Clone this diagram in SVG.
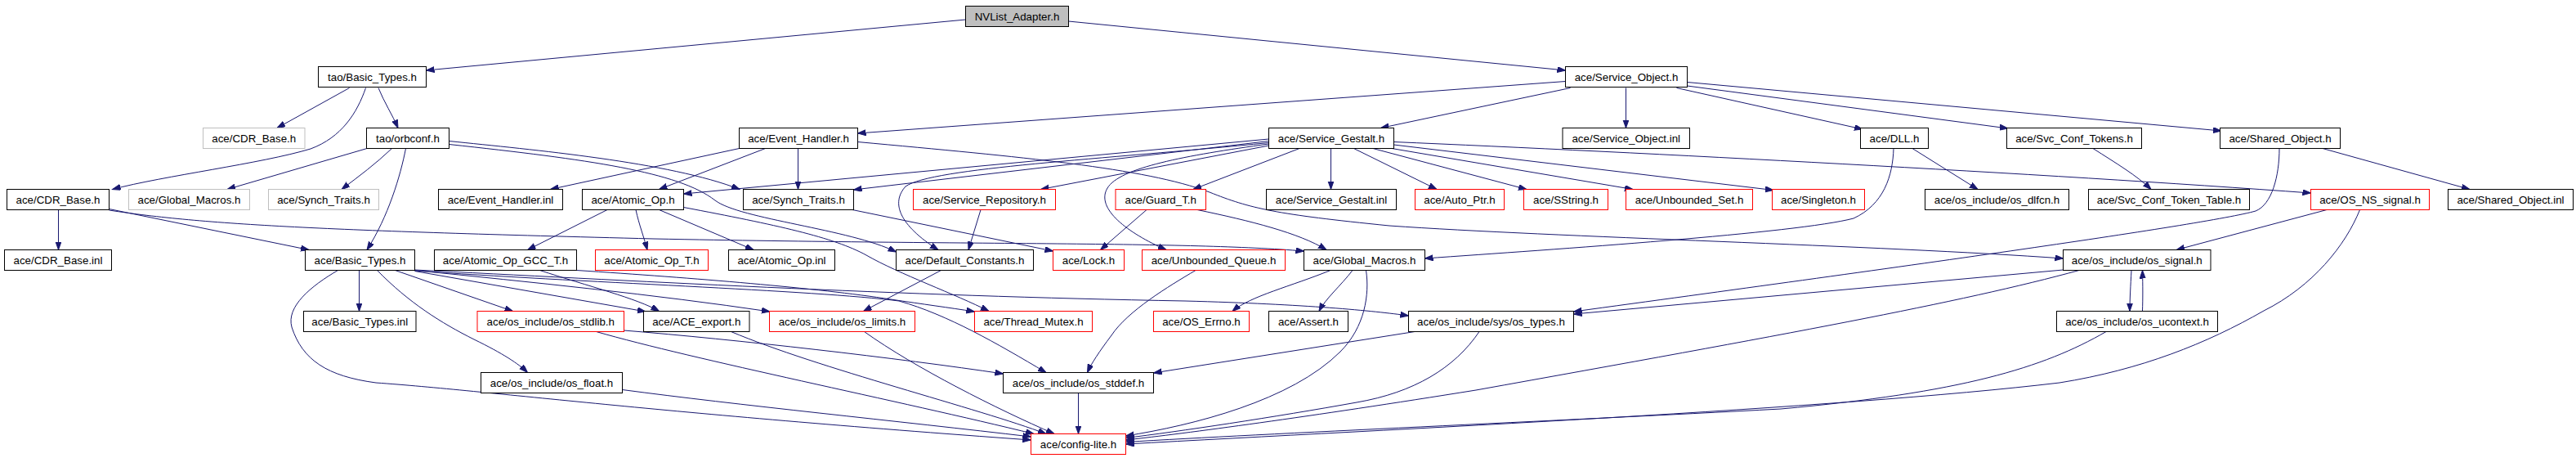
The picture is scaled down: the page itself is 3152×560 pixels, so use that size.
<svg xmlns="http://www.w3.org/2000/svg" width="3152" height="560" viewBox="0 0 3152 560">
<defs>
<style>
.node rect{fill:#ffffff;stroke:#000000;stroke-width:1}
.node.red rect{stroke:#ff0000}
.node.grey rect{stroke:#bfbfbf}
.node.root rect{fill:#bfbfbf;stroke:#000000}
.node text{font-family:"Liberation Sans",Arial,sans-serif;font-size:13.33px;fill:#000000;text-anchor:middle}
#edges path{fill:none;stroke:#191970;stroke-width:1;marker-end:url(#arr)}
</style>
<marker id="arr" markerUnits="userSpaceOnUse" markerWidth="11" markerHeight="8" refX="10" refY="3.5" orient="auto">
<path d="M0,0 L10,3.5 L0,7 z" fill="#191970" stroke="#191970" stroke-width="1"/>
</marker>
</defs>
<rect x="0" y="0" width="3152" height="560" fill="#ffffff"/>
<g id="edges">
<path d="M1181.5,24 L521.5,86"/>
<path d="M1307.5,26 L1915.5,86"/>
<path d="M427.5,107.5 L339,156.5"/>
<path d="M447.5,107.5 C437,138 418,168 380,182 C320,200 200,215 137.5,231.5"/>
<path d="M463,107.5 C470,125 480,140 487,156.5"/>
<path d="M449,181.5 L278,231.5"/>
<path d="M479.5,181.5 C460,200 440,215 418,231.5"/>
<path d="M496.5,181.5 C490,215 475,265 449,305.5"/>
<path d="M549.5,172.5 C650,183 820,198 905,231.5"/>
<path d="M549.5,176.5 C720,195 830,210 875,245 C905,268 1040,280 1096.5,308"/>
<path d="M904.5,181.5 L673.5,231.5"/>
<path d="M936.5,181.5 L806.5,231.5"/>
<path d="M976.5,181.5 L976.5,231.5"/>
<path d="M1049.5,173.5 C1250,192 1400,205 1480,235 C1530,255 1560,262 1700,276 C1900,290 2300,300 2524.5,316"/>
<path d="M1915.5,99.5 L1049.5,163"/>
<path d="M1921.5,107.5 L1689.5,156.5"/>
<path d="M1989.5,107.5 L1989.5,156.5"/>
<path d="M2051.5,107.5 L2279,158"/>
<path d="M2064.5,105 L2457,157"/>
<path d="M2064.5,100.5 L2718,160"/>
<path d="M1552.5,170 L836.5,237"/>
<path d="M1552.5,172.5 L1044.5,232"/>
<path d="M1552.5,174.5 C1350,195 1140,205 1108,228 C1090,248 1100,275 1148,305.5"/>
<path d="M1552.5,178 L1273.5,231.5"/>
<path d="M1552.5,176 C1450,190 1370,205 1355,230 C1340,255 1380,285 1427,305.5"/>
<path d="M1590,181.5 L1460,231.5"/>
<path d="M1628.5,181.5 L1628.5,231.5"/>
<path d="M1656.5,181.5 L1758,231.5"/>
<path d="M1680,181.5 L1868,231.5"/>
<path d="M1703,181.5 L1998,231.5"/>
<path d="M1705.5,177 L2170,232.5"/>
<path d="M1705.5,173.5 C2000,186 2500,212 2827.5,236"/>
<path d="M2340,181.5 L2420,231.5"/>
<path d="M2317,181.5 C2316,215 2305,250 2268,267 C2200,285 1900,305 1743.5,316"/>
<path d="M2561,181.5 C2590,200 2615,215 2632,231.5"/>
<path d="M2842,181.5 L3022,231.5"/>
<path d="M2789,181.5 C2789,215 2780,250 2760,258 C2700,275 2300,330 1925.5,381"/>
<path d="M71.5,256.5 L71.5,305.5"/>
<path d="M133.5,255.5 L378,305.5"/>
<path d="M133.5,257 C250,275 400,282 800,292 C1200,300 1450,295 1595.5,307"/>
<path d="M743,256.5 L645.5,305.5"/>
<path d="M778,256.5 C782,275 788,290 792,305.5"/>
<path d="M806.5,256.5 L922,305.5"/>
<path d="M836.5,253.5 C950,275 1020,290 1060,312 C1100,335 1170,360 1210,380.5"/>
<path d="M1043,256.5 L1288.5,307"/>
<path d="M1200,256.5 L1185,305.5"/>
<path d="M1403,256.5 L1346.5,305.5"/>
<path d="M1465,256.5 C1530,270 1590,285 1623,305.5"/>
<path d="M1151.5,330.5 L1056.5,380.5"/>
<path d="M1463,330.5 C1430,350 1380,380 1360,410 C1345,430 1335,445 1330.5,455.5"/>
<path d="M1628,330.5 C1580,350 1530,362 1508,380.5"/>
<path d="M1655,330.5 C1640,350 1622,365 1614,380.5"/>
<path d="M1671.5,330.5 C1676,360 1670,400 1640,430 C1580,490 1460,520 1377.5,533"/>
<path d="M1731,405.5 L1411.5,456"/>
<path d="M1810,405.5 C1780,450 1730,480 1660,492 C1560,510 1440,528 1377.5,535.5"/>
<path d="M2524.5,330 L1925.5,384"/>
<path d="M2544,330.5 C2400,370 2179,410 1806,477 C1600,510 1450,530 1377.5,538"/>
<path d="M2608,330.5 C2607,350 2606,365 2606,380.5"/>
<path d="M2621.5,380.5 C2622,365 2622,350 2621.5,330.5"/>
<path d="M2577,405.5 C2500,450 2400,480 2179,500 C1900,515 1550,530 1377.5,540.5"/>
<path d="M2847,256.5 L2663,305.5"/>
<path d="M2887.5,256.5 C2870,300 2830,350 2770,380 C2700,420 2620,452 2520,468 C2250,500 1700,525 1377.5,543"/>
<path d="M439.5,330.5 L439.5,380.5"/>
<path d="M461.5,330.5 C500,370 540,395 580,415 C615,432 635,445 645.5,455.5"/>
<path d="M483.5,330.5 L627.5,380.5"/>
<path d="M507.5,331.5 L790,381"/>
<path d="M507.5,330.5 C650,345 800,360 942,381"/>
<path d="M507.5,331 C700,345 1000,355 1100,368 C1160,385 1220,420 1280,455.5"/>
<path d="M507.5,330 C750,342 1100,362 1450,368 C1600,372 1680,380 1723.5,386"/>
<path d="M413.5,330.5 C380,350 350,375 357,400 C370,440 400,460 460,468 C600,478 800,505 1261.5,538"/>
<path d="M660.5,330.5 C720,350 780,365 806.5,380.5"/>
<path d="M705.5,330.5 C850,340 1000,352 1090,366 C1130,372 1160,376 1192.5,381"/>
<path d="M763.5,404 C900,415 1100,438 1227.5,457"/>
<path d="M729.5,405.5 C850,440 1100,490 1265,530.5"/>
<path d="M894.5,405.5 C1000,450 1200,500 1280,530.5"/>
<path d="M1057.5,405.5 C1120,450 1220,500 1290,530.5"/>
<path d="M761.5,476.5 C900,495 1100,515 1261.5,534"/>
<path d="M1319.5,480.5 L1319.5,530.5"/>
</g>
<g id="n_nvlist" class="node root"><rect x="1181.5" y="7.5" width="126" height="25"/><text x="1244.5" y="24.5">NVList_Adapter.h</text></g>
<g id="n_tao_basic_types" class="node"><rect x="389.5" y="81.5" width="132" height="25"/><text x="455.5" y="98.5">tao/Basic_Types.h</text></g>
<g id="n_service_object" class="node"><rect x="1915.5" y="81.5" width="149" height="25"/><text x="1990" y="98.5">ace/Service_Object.h</text></g>
<g id="n_cdr_base_grey" class="node grey"><rect x="248.5" y="156.5" width="124.5" height="25"/><text x="310.75" y="173.5">ace/CDR_Base.h</text></g>
<g id="n_orbconf" class="node"><rect x="448.5" y="156.5" width="101" height="25"/><text x="499" y="173.5">tao/orbconf.h</text></g>
<g id="n_event_handler" class="node"><rect x="904.5" y="156.5" width="145" height="25"/><text x="977" y="173.5">ace/Event_Handler.h</text></g>
<g id="n_service_gestalt" class="node"><rect x="1552.5" y="156.5" width="153" height="25"/><text x="1629" y="173.5">ace/Service_Gestalt.h</text></g>
<g id="n_service_object_inl" class="node"><rect x="1912" y="156.5" width="155.5" height="25"/><text x="1989.75" y="173.5">ace/Service_Object.inl</text></g>
<g id="n_dll" class="node"><rect x="2276.5" y="156.5" width="83" height="25"/><text x="2318" y="173.5">ace/DLL.h</text></g>
<g id="n_svc_conf_tokens" class="node"><rect x="2455.5" y="156.5" width="165" height="25"/><text x="2538" y="173.5">ace/Svc_Conf_Tokens.h</text></g>
<g id="n_shared_object" class="node"><rect x="2716.5" y="156.5" width="147" height="25"/><text x="2790" y="173.5">ace/Shared_Object.h</text></g>
<g id="n_cdr_base" class="node"><rect x="8.5" y="231.5" width="125" height="25"/><text x="71" y="248.5">ace/CDR_Base.h</text></g>
<g id="n_global_macros_grey" class="node grey"><rect x="157.5" y="231.5" width="148" height="25"/><text x="231.5" y="248.5">ace/Global_Macros.h</text></g>
<g id="n_synch_traits_grey" class="node grey"><rect x="328.5" y="231.5" width="135" height="25"/><text x="396" y="248.5">ace/Synch_Traits.h</text></g>
<g id="n_event_handler_inl" class="node"><rect x="536.5" y="231.5" width="152" height="25"/><text x="612.5" y="248.5">ace/Event_Handler.inl</text></g>
<g id="n_atomic_op" class="node"><rect x="712.5" y="231.5" width="124" height="25"/><text x="774.5" y="248.5">ace/Atomic_Op.h</text></g>
<g id="n_synch_traits" class="node"><rect x="909.5" y="231.5" width="135" height="25"/><text x="977" y="248.5">ace/Synch_Traits.h</text></g>
<g id="n_service_repository" class="node red"><rect x="1117.5" y="231.5" width="174" height="25"/><text x="1204.5" y="248.5">ace/Service_Repository.h</text></g>
<g id="n_guard_t" class="node red"><rect x="1365" y="231.5" width="110.5" height="25"/><text x="1420.25" y="248.5">ace/Guard_T.h</text></g>
<g id="n_service_gestalt_inl" class="node"><rect x="1549.5" y="231.5" width="159" height="25"/><text x="1629" y="248.5">ace/Service_Gestalt.inl</text></g>
<g id="n_auto_ptr" class="node red"><rect x="1731.5" y="231.5" width="109" height="25"/><text x="1786" y="248.5">ace/Auto_Ptr.h</text></g>
<g id="n_sstring" class="node red"><rect x="1864.5" y="231.5" width="103" height="25"/><text x="1916" y="248.5">ace/SString.h</text></g>
<g id="n_unbounded_set" class="node red"><rect x="1989.5" y="231.5" width="155" height="25"/><text x="2067" y="248.5">ace/Unbounded_Set.h</text></g>
<g id="n_singleton" class="node red"><rect x="2168.5" y="231.5" width="113" height="25"/><text x="2225" y="248.5">ace/Singleton.h</text></g>
<g id="n_os_dlfcn" class="node"><rect x="2355.5" y="231.5" width="176" height="25"/><text x="2443.5" y="248.5">ace/os_include/os_dlfcn.h</text></g>
<g id="n_svc_conf_token_table" class="node"><rect x="2555.5" y="231.5" width="197" height="25"/><text x="2654" y="248.5">ace/Svc_Conf_Token_Table.h</text></g>
<g id="n_os_ns_signal" class="node red"><rect x="2827.5" y="231.5" width="145" height="25"/><text x="2900" y="248.5">ace/OS_NS_signal.h</text></g>
<g id="n_shared_object_inl" class="node"><rect x="2995.5" y="231.5" width="153" height="25"/><text x="3072" y="248.5">ace/Shared_Object.inl</text></g>
<g id="n_cdr_base_inl" class="node"><rect x="5.5" y="305.5" width="131" height="25"/><text x="71" y="322.5">ace/CDR_Base.inl</text></g>
<g id="n_basic_types" class="node"><rect x="373.5" y="305.5" width="134" height="25"/><text x="440.5" y="322.5">ace/Basic_Types.h</text></g>
<g id="n_atomic_op_gcc_t" class="node"><rect x="531.5" y="305.5" width="174" height="25"/><text x="618.5" y="322.5">ace/Atomic_Op_GCC_T.h</text></g>
<g id="n_atomic_op_t" class="node red"><rect x="728.5" y="305.5" width="138" height="25"/><text x="797.5" y="322.5">ace/Atomic_Op_T.h</text></g>
<g id="n_atomic_op_inl" class="node"><rect x="891.5" y="305.5" width="130" height="25"/><text x="956.5" y="322.5">ace/Atomic_Op.inl</text></g>
<g id="n_default_constants" class="node"><rect x="1096.5" y="305.5" width="168" height="25"/><text x="1180.5" y="322.5">ace/Default_Constants.h</text></g>
<g id="n_lock" class="node red"><rect x="1288.5" y="305.5" width="87" height="25"/><text x="1332" y="322.5">ace/Lock.h</text></g>
<g id="n_unbounded_queue" class="node red"><rect x="1397.5" y="305.5" width="175" height="25"/><text x="1485" y="322.5">ace/Unbounded_Queue.h</text></g>
<g id="n_global_macros" class="node"><rect x="1595.5" y="305.5" width="148" height="25"/><text x="1669.5" y="322.5">ace/Global_Macros.h</text></g>
<g id="n_os_signal" class="node"><rect x="2524.5" y="305.5" width="180.5" height="25"/><text x="2614.75" y="322.5">ace/os_include/os_signal.h</text></g>
<g id="n_basic_types_inl" class="node"><rect x="371.5" y="380.5" width="137.5" height="25"/><text x="440.25" y="397.5">ace/Basic_Types.inl</text></g>
<g id="n_os_stdlib" class="node red"><rect x="584" y="380.5" width="179.5" height="25"/><text x="673.75" y="397.5">ace/os_include/os_stdlib.h</text></g>
<g id="n_ace_export" class="node"><rect x="787.5" y="380.5" width="129.5" height="25"/><text x="852.25" y="397.5">ace/ACE_export.h</text></g>
<g id="n_os_limits" class="node red"><rect x="941.5" y="380.5" width="178" height="25"/><text x="1030.5" y="397.5">ace/os_include/os_limits.h</text></g>
<g id="n_thread_mutex" class="node red"><rect x="1192.5" y="380.5" width="144" height="25"/><text x="1264.5" y="397.5">ace/Thread_Mutex.h</text></g>
<g id="n_os_errno" class="node red"><rect x="1411.5" y="380.5" width="117" height="25"/><text x="1470" y="397.5">ace/OS_Errno.h</text></g>
<g id="n_assert" class="node"><rect x="1552.5" y="380.5" width="97" height="25"/><text x="1601" y="397.5">ace/Assert.h</text></g>
<g id="n_os_types" class="node"><rect x="1723.5" y="380.5" width="202" height="25"/><text x="1824.5" y="397.5">ace/os_include/sys/os_types.h</text></g>
<g id="n_os_ucontext" class="node"><rect x="2516.5" y="380.5" width="197" height="25"/><text x="2615" y="397.5">ace/os_include/os_ucontext.h</text></g>
<g id="n_os_float" class="node"><rect x="588.5" y="455.5" width="173" height="25"/><text x="675" y="472.5">ace/os_include/os_float.h</text></g>
<g id="n_os_stddef" class="node"><rect x="1227.5" y="455.5" width="184" height="25"/><text x="1319.5" y="472.5">ace/os_include/os_stddef.h</text></g>
<g id="n_config_lite" class="node red"><rect x="1261.5" y="530.5" width="116" height="25"/><text x="1319.5" y="547.5">ace/config-lite.h</text></g>
</svg>
